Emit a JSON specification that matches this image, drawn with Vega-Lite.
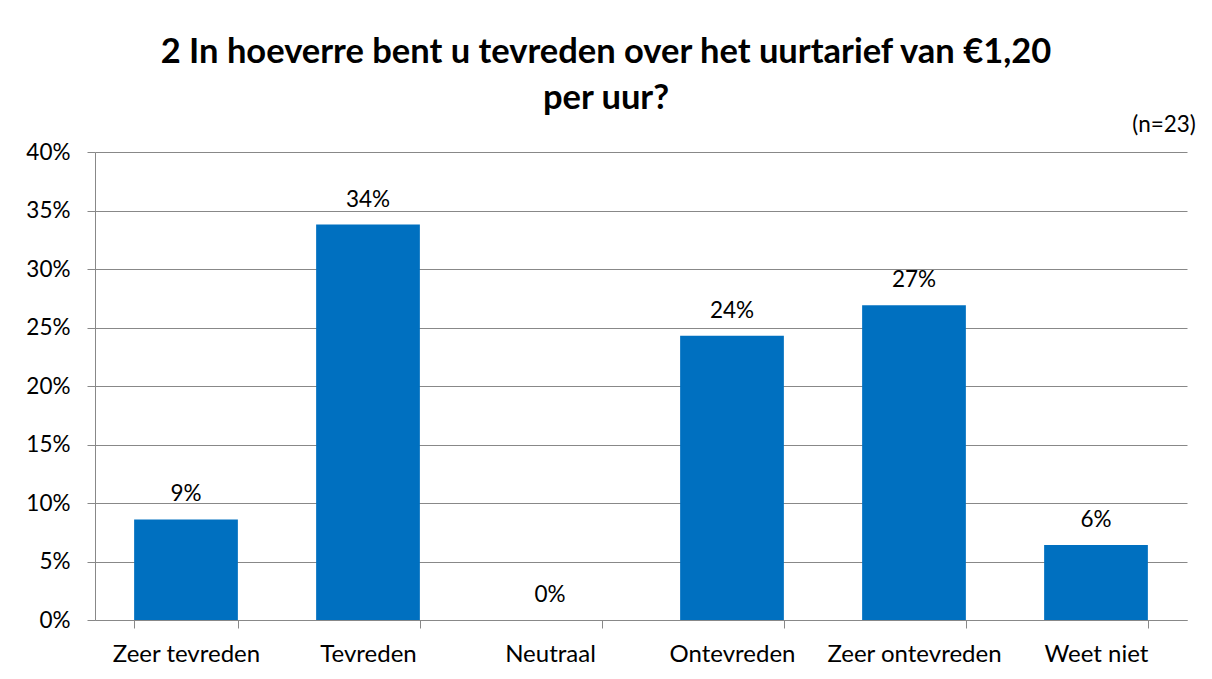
{
  "$schema": "https://vega.github.io/schema/vega-lite/v6.json",
  "width": 1092,
  "height": 468,
  "autosize": {"type": "none"},
  "padding": {"left": 95, "top": 152, "right": 25, "bottom": 59},
  "background": "white",
  "title": {
    "text": ["2 In hoeverre bent u tevreden over het uurtarief van €1,20", "per uur?"],
    "font": "Lato",
    "fontSize": 34.5,
    "fontWeight": "bold",
    "color": "black",
    "anchor": "middle",
    "dx": -35,
    "lineHeight": 46,
    "offset": -2
  },
  "config": {"view": {"stroke": null}},
  "data": {
    "values": [
      {"categorie": "Zeer tevreden", "aandeel": 0.086},
      {"categorie": "Tevreden", "aandeel": 0.338},
      {"categorie": "Neutraal", "aandeel": 0.0},
      {"categorie": "Ontevreden", "aandeel": 0.243},
      {"categorie": "Zeer ontevreden", "aandeel": 0.269},
      {"categorie": "Weet niet", "aandeel": 0.064}
    ]
  },
  "layer": [
    {
      "mark": {"type": "bar", "color": "#0070C0"},
      "encoding": {
        "x": {
          "field": "categorie",
          "type": "nominal",
          "sort": null,
          "scale": {"paddingInner": 0.43, "paddingOuter": 0.215},
          "axis": {
            "title": null,
            "labelAngle": 0,
            "labelFont": "Lato",
            "labelFontSize": 24,
            "labelColor": "black",
            "tickBand": "extent",
            "tickSize": 8,
            "tickColor": "#888888",
            "domainColor": "#888888",
            "labelPadding": 14,
            "grid": false
          }
        },
        "y": {
          "field": "aandeel",
          "type": "quantitative",
          "scale": {"domain": [0, 0.4]},
          "axis": {
            "title": null,
            "format": ".0%",
            "values": [0, 0.05, 0.1, 0.15, 0.2, 0.25, 0.3, 0.35, 0.4],
            "labelFont": "Lato",
            "labelFontSize": 22.5,
            "labelColor": "black",
            "tickSize": 8,
            "tickColor": "#888888",
            "domainColor": "#888888",
            "gridColor": "#888888",
            "labelPadding": 17
          }
        }
      }
    },
    {
      "mark": {"type": "text", "dy": -18, "baseline": "alphabetic", "font": "Lato", "fontSize": 22.5, "color": "black"},
      "encoding": {
        "x": {"field": "categorie", "type": "nominal", "sort": null},
        "y": {"field": "aandeel", "type": "quantitative"},
        "text": {"field": "aandeel", "format": ".0%"}
      }
    },
    {
      "data": {"values": [{"n": "(n=23)"}]},
      "mark": {"type": "text", "align": "right", "baseline": "alphabetic", "dx": 48, "dy": -20, "font": "Lato", "fontSize": 22.5, "color": "black"},
      "encoding": {
        "x": {"datum": "Weet niet", "type": "nominal", "bandPosition": 1},
        "y": {"datum": 0.4, "type": "quantitative"},
        "text": {"field": "n"}
      }
    }
  ]
}
